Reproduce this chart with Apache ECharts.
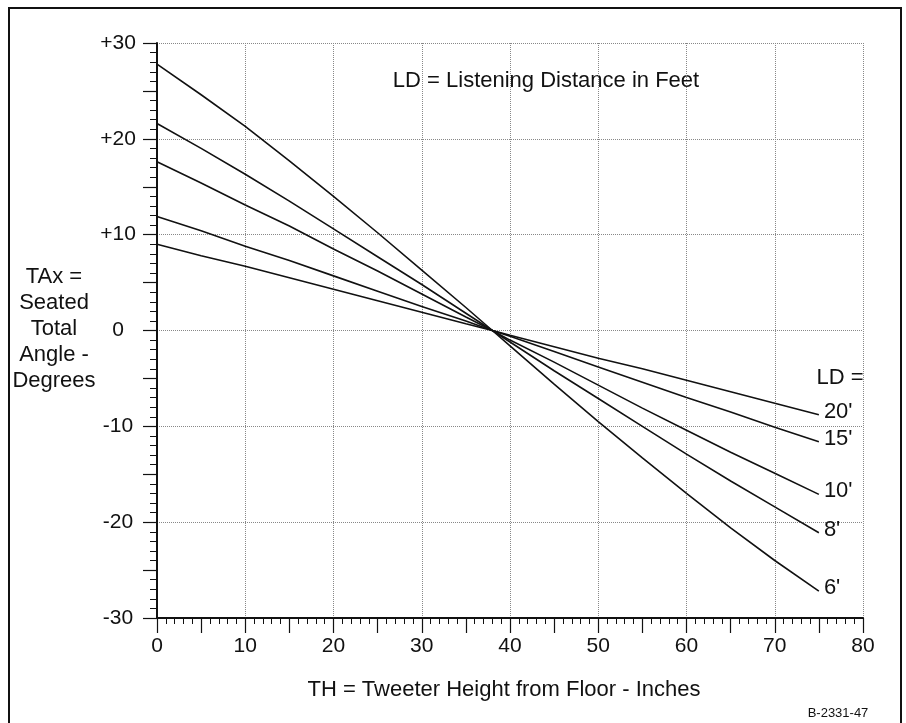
<!DOCTYPE html>
<html>
<head>
<meta charset="utf-8">
<title>Tweeter height vs seated total angle</title>
<script src="https://cdn.jsdelivr.net/npm/echarts/dist/echarts.min.js"></script>
<style>
    html, body { margin: 0; padding: 0; background: #fff; }
    #main { width: 906px; height: 723px; }
</style>
</head>
<body>
<div id="main"></div>
<script>
// tweeter height (inches) and the seated total angle (degrees) read for each listening distance
var thInches = [0, 5, 10, 15, 20, 25, 30, 35, 38, 40, 45, 50, 55, 60, 65, 70, 75];
var ld6  = [27.8, 24.6, 21.3, 17.7, 14.0, 10.2, 6.3, 2.4, 0, -1.6, -5.6, -9.5, -13.3, -17.0, -20.6, -24.0, -27.2];
var ld8  = [21.6, 19.0, 16.3, 13.5, 10.6, 7.7, 4.8, 1.8, 0, -1.2, -4.2, -7.1, -10.0, -12.9, -15.7, -18.4, -21.1];
var ld10 = [17.6, 15.4, 13.1, 10.9, 8.5, 6.2, 3.8, 1.4, 0, -1.0, -3.3, -5.7, -8.1, -10.4, -12.7, -14.9, -17.1];
var ld15 = [11.9, 10.4, 8.8, 7.3, 5.7, 4.1, 2.5, 1.0, 0, -0.6, -2.2, -3.8, -5.4, -7.0, -8.5, -10.1, -11.6];
var ld20 = [9.0, 7.8, 6.7, 5.5, 4.3, 3.1, 1.9, 0.7, 0, -0.5, -1.7, -2.9, -4.0, -5.2, -6.4, -7.6, -8.8];
var ldNames = ["20'", "15'", "10'", "8'", "6'"];
var ldSeries = [ld20, ld15, ld10, ld8, ld6];

var FONT = 'Liberation Sans, Arial, sans-serif';
var INK = '#111';

var myChart = echarts.init(document.getElementById('main'));

function pairs(ys) {
    return thInches.map(function (x, i) { return [x, ys[i]]; });
}

var series = ldSeries.map(function (ys, i) {
    return {
        name: ldNames[i],
        type: 'line',
        xAxisIndex: 0,
        yAxisIndex: 0,
        showSymbol: false,
        symbol: 'none',
        lineStyle: { color: INK, width: 1.6 },
        endLabel: {
            show: true,
            formatter: ldNames[i],
            color: INK,
            fontFamily: FONT,
            fontSize: 22,
            distance: 5,
            offset: [0, -3]
        },
        data: pairs(ys)
    };
});

var gridLine = { show: true, lineStyle: { color: '#888', type: 'dotted', width: 1 } };

option = {
    animation: false,
    backgroundColor: '#fff',
    textStyle: { fontFamily: FONT },
    grid: { left: 157, right: 43, top: 43, bottom: 105 },
    xAxis: [
        {
            type: 'value',
            min: 0,
            max: 80,
            interval: 5,
            axisLine: { onZero: false, lineStyle: { color: INK, width: 2 } },
            axisTick: { length: 15, lineStyle: { color: INK, width: 1.2 } },
            minorTick: { show: true, splitNumber: 5, length: 6, lineStyle: { color: INK, width: 1 } },
            splitLine: { show: false },
            axisLabel: {
                color: INK,
                fontFamily: FONT,
                fontSize: 21,
                margin: 18,
                formatter: function (v) { return v % 10 === 0 ? String(v) : ''; }
            }
        },
        {
            type: 'value',
            position: 'bottom',
            min: 0,
            max: 80,
            interval: 10,
            axisLine: { show: false, onZero: false },
            axisTick: { show: false },
            axisLabel: { show: false },
            splitLine: gridLine
        }
    ],
    yAxis: [
        {
            type: 'value',
            min: -30,
            max: 30,
            interval: 5,
            axisLine: { show: true, onZero: false, lineStyle: { color: INK, width: 2 } },
            axisTick: { show: true, length: 14, lineStyle: { color: INK, width: 1.2 } },
            minorTick: { show: true, splitNumber: 5, length: 7, lineStyle: { color: INK, width: 1 } },
            splitLine: { show: false },
            axisLabel: {
                color: INK,
                fontFamily: FONT,
                fontSize: 21,
                align: 'center',
                margin: 39,
                formatter: function (v) {
                    if (v % 10 !== 0) return '';
                    return v > 0 ? '+' + v : String(v);
                }
            }
        },
        {
            type: 'value',
            min: -30,
            max: 30,
            interval: 10,
            axisLine: { show: false, onZero: false },
            axisTick: { show: false },
            axisLabel: { show: false },
            splitLine: gridLine
        }
    ],
    graphic: [
        {
            type: 'rect',
            shape: { x: 9, y: 8, width: 892, height: 730 },
            style: { fill: 'none', stroke: INK, lineWidth: 2 },
            silent: true
        },
        {
            type: 'text', x: 546, y: 81,
            style: { text: 'LD = Listening Distance in Feet', fill: INK, font: '22px ' + FONT, textAlign: 'center', textVerticalAlign: 'middle' }
        },
        {
            type: 'text', x: 840, y: 378,
            style: { text: 'LD =', fill: INK, font: '22px ' + FONT, textAlign: 'center', textVerticalAlign: 'middle' }
        },
        {
            type: 'text', x: 54, y: 329,
            style: {
                text: 'TAx =\nSeated\nTotal\nAngle -\nDegrees',
                fill: INK, font: '22px ' + FONT, lineHeight: 26,
                textAlign: 'center', textVerticalAlign: 'middle'
            }
        },
        {
            type: 'text', x: 504, y: 690,
            style: { text: 'TH = Tweeter Height from Floor - Inches', fill: INK, font: '22px ' + FONT, textAlign: 'center', textVerticalAlign: 'middle' }
        },
        {
            type: 'text', x: 838, y: 713,
            style: { text: 'B-2331-47', fill: INK, font: '13px ' + FONT, textAlign: 'center', textVerticalAlign: 'middle' }
        }
    ],
    series: series
};

myChart.setOption(option);
</script>
</body>
</html>
